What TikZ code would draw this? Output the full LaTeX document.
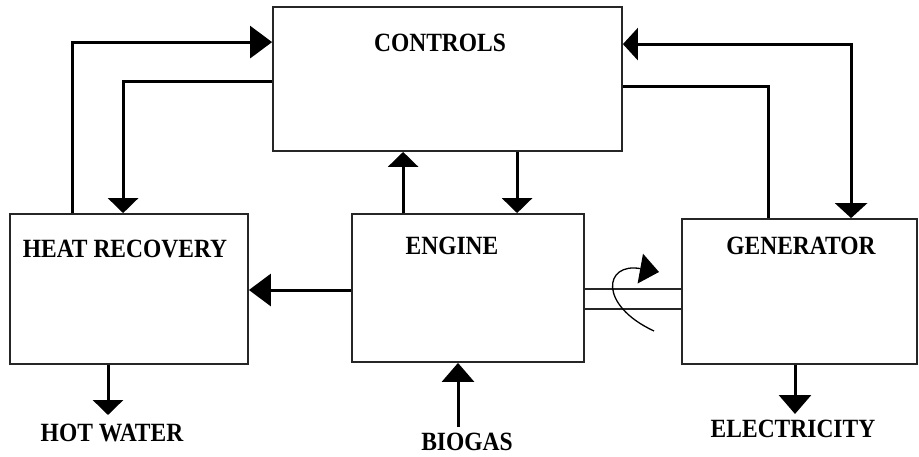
\documentclass[tikz,border=0pt]{standalone}
\usepackage{fontspec}
\setmainfont{Liberation Serif}
\usetikzlibrary{arrows.meta,positioning}

\tikzset{
  unit/.style={draw=black!85,line width=1.8pt,rectangle,inner sep=0pt},
  lbl/.style={font=\bfseries\fontsize{23.5}{26}\selectfont,inner sep=0pt,yscale=1.12,transform shape},
  flow/.style={line width=3pt,-{Triangle[length=15pt,width=30pt]}},
  longflow/.style={line width=3pt,-{Triangle[length=22pt,width=32pt]}},
}

\begin{document}
\begin{tikzpicture}[x=1pt,y=-1pt]
  \useasboundingbox (0,0) rectangle (919,456);
  % blocks
  \node[unit,minimum width=349pt,minimum height=144pt] (ctrl) at (447.5,79) {};
  \node[unit,minimum width=238pt,minimum height=150pt] (hr) at (129,289) {};
  \node[unit,minimum width=232pt,minimum height=148pt] (eng) at (468,288) {};
  \node[unit,minimum width=235pt,minimum height=145pt] (gen) at (799.5,291.5) {};
  \node[lbl] (ctrltxt) at (440,43) {CONTROLS};
  \node[lbl] (hrtxt) at (125,248.5) {HEAT RECOVERY};
  \node[lbl] (engtxt) at (452,245.5) {ENGINE};
  \node[lbl] (gentxt) at (801,246) {GENERATOR};
  \node[lbl] (hw) at (112,433) {HOT WATER};
  \node[lbl] (bg) at (467,442) {BIOGAS};
  \node[lbl] (el) at (793,429) {ELECTRICITY};
  % control loops
  \draw[longflow] ([xshift=63pt]hr.north west) |- ([yshift=-36pt]ctrl.north west);
  \draw[flow] ([yshift=-75pt]ctrl.north west) -| ([xshift=114pt]hr.north west);
  \coordinate (e1) at ([xshift=52pt]eng.north west);
  \coordinate (e2) at ([xshift=166pt]eng.north west);
  \draw[flow] (e1) -- (e1 |- ctrl.south);
  \draw[flow] (e2 |- ctrl.south) -- (e2);
  \draw[flow,{Triangle[length=15pt,width=32pt]}-{Triangle[length=15pt,width=32pt]}]
    ([yshift=-38pt]ctrl.north east) -| ([xshift=170pt]gen.north west);
  \draw[line width=3pt] ([yshift=-80pt]ctrl.north east) -| ([xshift=87pt]gen.north west);
  % heat and shaft
  \coordinate (e3) at ([yshift=-2pt]eng.west);
  \draw[longflow] (e3) -- (e3 -| hr.east);
  \coordinate (s1) at ([yshift=-1pt]eng.east);
  \coordinate (s2) at ([yshift=-21pt]eng.east);
  \draw[black!85,line width=1.8pt] (s1) -- (s1 -| gen.west);
  \draw[black!85,line width=1.8pt] (s2) -- (s2 -| gen.west);
  \draw[line width=1.3pt,-{Triangle[length=19pt,width=30pt]}]
    (654,331) .. controls (598,305) and (604,262) .. (659,272);
  % outputs
  \coordinate (hwend) at (108,415);
  \coordinate (bgstart) at (458,427);
  \coordinate (elend) at (795,414);
  \draw[flow] (hwend |- hr.south) -- (hwend);
  \draw[flow,-{Triangle[length=19pt,width=32pt]}] (bgstart) -- (bgstart |- eng.south);
  \draw[flow,-{Triangle[length=19pt,width=32pt]}] (elend |- gen.south) -- (elend);
\end{tikzpicture}
\end{document}
